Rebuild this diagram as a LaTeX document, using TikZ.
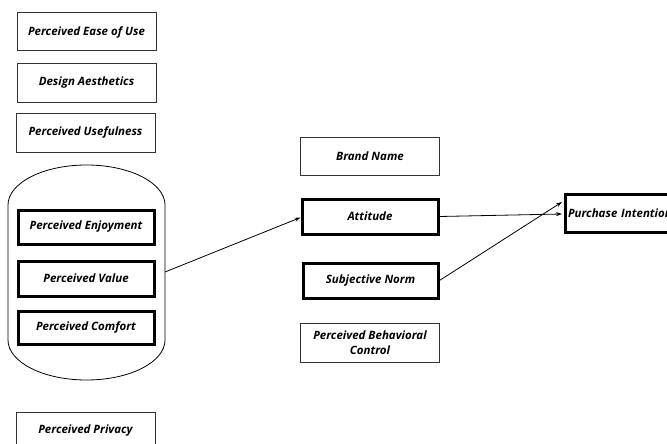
\documentclass[tikz,border=0pt]{standalone}
\usepackage{fontspec}
\setmainfont{Open Sans}
\usetikzlibrary{arrows.meta}
\begin{document}
\begin{tikzpicture}[x=1pt,y=-1pt,
  box/.style={draw=black!80,line width=1pt,minimum width=139pt,minimum height=38pt,inner sep=0pt,
    font=\fontsize{11.5}{15}\selectfont\bfseries\itshape,align=center},
  thickbox/.style={box,draw=black,line width=3pt,minimum width=136pt,minimum height=34pt},
  arr/.style={line width=0.8pt,-{Stealth[length=6pt,width=4pt]}}]
\useasboundingbox (0,0) rectangle (667,444);
\clip (0,0) rectangle (667,444);
\node[box] (peou) at (86.5,32) {Perceived Ease of Use};
\node[box] (da) at (86.5,83) {Design Aesthetics};
\node[box,minimum height=39pt] (pu) at (85.5,132.5) {Perceived Usefulness};
% group outline
\draw[line width=0.8pt] (8,205) arc[start angle=180,end angle=360,x radius=78.5,y radius=40]
  -- (165,340) arc[start angle=0,end angle=180,x radius=78.5,y radius=40] -- cycle;
\coordinate (grp) at (165,272);
\node[thickbox] (pe) at (86,227) {Perceived Enjoyment};
\node[thickbox,minimum height=35pt] (pv) at (86,278.5) {Perceived Value};
\node[thickbox,minimum height=33pt] (pc) at (86,327.5) {Perceived Comfort};
\node[box] (pp) at (85.5,431) {Perceived Privacy};
\node[box] (bn) at (370,156) {Brand Name};
\node[thickbox,minimum height=35pt] (att) at (370,216.5) {Attitude};
\node[thickbox,minimum width=135pt,minimum height=35pt] (sn) at (370.5,280.5) {Subjective Norm};
\node[box,minimum height=39pt] (pbc) at (370,342.5) {Perceived Behavioral\\Control};
\node[thickbox,minimum width=138pt,minimum height=38pt,text width=132pt,align=left] (pi) at (634,213) {Purchase Intention};
\draw[arr] (grp) -- ([yshift=-1pt]att.west);
\draw[arr] (att.east) -- ([xshift=-1.5pt,yshift=-1pt]pi.west);
\draw[arr] (sn.east) -- ([xshift=-1.5pt,yshift=11pt]pi.west);
\end{tikzpicture}
\end{document}
